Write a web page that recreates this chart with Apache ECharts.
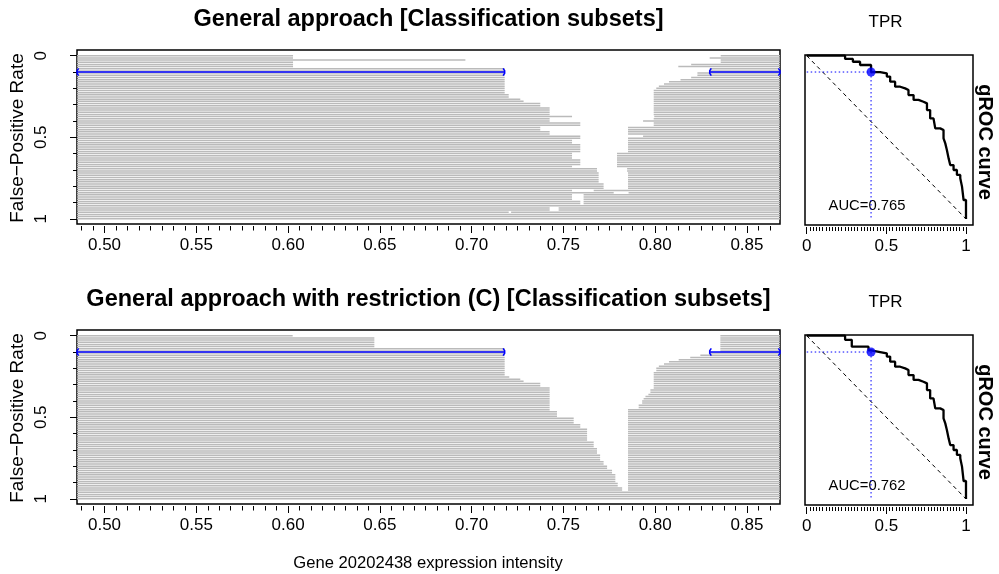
<!DOCTYPE html>
<html>
<head>
<meta charset="utf-8">
<script src="https://cdn.jsdelivr.net/npm/echarts@6/dist/echarts.min.js"></script>
<style>
  html, body { margin: 0; padding: 0; background: #fff; }
  #chart { width: 999px; height: 574px; }
</style>
</head>
<body>
<div id="chart"></div>
<script>
// ---- data -------------------------------------------------------------
// Number of negatives: FPR levels are k / N_NEG, k = 0..N_NEG
const N_NEG = 75;

// Expression axis range and tick labels
const X_MIN = 0.485, X_MAX = 0.868;
const xTickLabels = [0.50, 0.55, 0.60, 0.65, 0.70, 0.75, 0.80, 0.85];
const yTickLabels = [0, 0.5, 1];
const rocTickLabels = [0, 0.5, 1];

// Classification subsets: x <= lowerEnd[k]  or  x >= upperStart[k]
// (null = the whole range is classified as positive)
const lowerEndGeneral = [
  0.6027, 0.6027, 0.6966, 0.6027, 0.6027, 0.6027,
  0.718, 0.718, 0.718, 0.718, 0.718, 0.718, 0.718, 0.718, 0.718, 0.718, 0.718, 0.718,
  0.7202, 0.7202, 0.7265, 0.7283, 0.7374, 0.7374,
  0.7425, 0.7425, 0.7425, 0.7425, 0.7547, 0.7425, 0.7425,
  0.7592, 0.7592, 0.7374, 0.7374, 0.7425, 0.7425,
  0.7592, 0.7592, 0.7547, 0.7547,
  0.7592, 0.7592, 0.7592, 0.7592,
  0.7547, 0.7547, 0.7547,
  0.7592, 0.7592, 0.7592,
  0.7547, 0.7683, 0.7683,
  0.7692, 0.7692, 0.7692, 0.7692, 0.7692,
  0.7719, 0.7719, 0.7719,
  0.7547, 0.7774,
  0.7547, 0.7547, 0.7547,
  0.7592, 0.7592,
  null, 0.7425, 0.7425, 0.7202,
  null, null, null
];
const upperStartGeneral = [
  0.8357, 0.8297, 0.8357, 0.8357, 0.8196, 0.8126, 0.8297, 0.8297,
  0.823, 0.823, 0.8196, 0.8138, 0.8075, 0.8048, 0.802, 0.8006,
  0.7992, 0.7992, 0.7992, 0.7992, 0.7992, 0.7992, 0.7992, 0.7992, 0.7992, 0.7992, 0.7992, 0.7992,
  0.7995, 0.7992, 0.7934, 0.7992, 0.7992,
  0.7852, 0.7852, 0.7852, 0.7852,
  0.7934,
  0.7852, 0.7852, 0.7852, 0.7852, 0.7852, 0.7852, 0.7852,
  0.7792, 0.7792, 0.7792, 0.7792, 0.7792, 0.7792, 0.7792,
  0.7847, 0.7847, 0.7852, 0.7852, 0.7852, 0.7852, 0.7852, 0.7852, 0.7852, 0.7852,
  0.7665, 0.7855,
  0.761, 0.761, 0.761, 0.761, 0.761,
  null, 0.7474, 0.7474, 0.7215,
  null, null, null
];

const lowerEndRestricted = [
  0.6025, 0.647, 0.647, 0.647, 0.647, 0.647,
  0.718, 0.718, 0.718, 0.718, 0.718, 0.718, 0.718, 0.718, 0.718, 0.718, 0.718, 0.718, 0.718,
  0.7205, 0.7265, 0.7283,
  0.7374, 0.7374,
  0.7425, 0.7425, 0.7425, 0.7425, 0.7425, 0.7425, 0.7425, 0.7425, 0.7425, 0.7425, 0.7425,
  0.7465, 0.7465, 0.7465,
  0.7556, 0.7556, 0.7556,
  0.7592, 0.7592,
  0.7629, 0.7629, 0.7629, 0.7629, 0.7629, 0.7629,
  0.7665, 0.7665, 0.7665,
  0.7683, 0.7683, 0.7683,
  0.770, 0.770, 0.770,
  0.7719, 0.7719,
  0.7738, 0.7738,
  0.7765, 0.7765,
  0.7783, 0.7783, 0.7783, 0.7783,
  0.7796, 0.7796,
  0.782, 0.782,
  null, null, null, null
];
const upperStartRestricted = [
  0.8355, 0.8355, 0.8355, 0.8355, 0.8355, 0.8355, 0.8355, 0.8355,
  0.830, 0.8246, 0.8191, 0.8128, 0.8075, 0.8048, 0.802,
  0.8006, 0.8006,
  0.7992, 0.7992, 0.7992, 0.7992, 0.7992, 0.7992, 0.7992, 0.7992,
  0.7974, 0.7974,
  0.7963, 0.7947, 0.7937,
  0.7929, 0.7929,
  0.791, 0.791,
  0.7852, 0.7852, 0.7852, 0.7852, 0.7852, 0.7852, 0.7852, 0.7852, 0.7852, 0.7852,
  0.7852, 0.7852, 0.7852, 0.7852, 0.7852, 0.7852, 0.7852, 0.7852, 0.7852, 0.7852,
  0.7852, 0.7852, 0.7852, 0.7852, 0.7852, 0.7852, 0.7852, 0.7852, 0.7852, 0.7852,
  0.7852, 0.7852, 0.7852, 0.7852, 0.7852, 0.7852, 0.7852, 0.7852,
  null, null, null, null
];

// Chosen FPR and its classification subset
const targetFPR = 0.1;
const targetTPRGeneral = 0.404;
const targetTPRRestricted = 0.404;
const targetSubsetGeneral = [0.718, 0.8297];
const targetSubsetRestricted = [0.718, 0.8297];

// gROC curves (vertices of the step function): TPR and FPR
const rocTprGeneral = [0, 0.241, 0.29, 0.335, 0.404, 0.461, 0.503, 0.524, 0.555, 0.587, 0.618, 0.639, 0.671,
  0.702, 0.733, 0.755, 0.775, 0.796, 0.807, 0.838, 0.859, 0.87, 0.88, 0.891, 0.901, 0.922, 0.943, 0.964,
  0.975, 0.985, 1.0, 1.0];
const rocFprGeneral = [0, 0.02, 0.037, 0.057, 0.1, 0.108, 0.128, 0.159, 0.19, 0.20, 0.21, 0.241, 0.271,
  0.282, 0.292, 0.333, 0.384, 0.394, 0.445, 0.455, 0.506, 0.537, 0.578, 0.629, 0.67, 0.70, 0.73, 0.751,
  0.802, 0.884, 0.888, 1.0];
const rocTprRestricted = [0, 0.241, 0.283, 0.388, 0.404, 0.461, 0.503, 0.524, 0.555, 0.587, 0.618, 0.639, 0.671,
  0.702, 0.733, 0.755, 0.775, 0.796, 0.807, 0.838, 0.859, 0.87, 0.88, 0.891, 0.901, 0.922, 0.943, 0.964,
  0.975, 0.985, 1.0, 1.0];
const rocFprRestricted = [0, 0.025, 0.067, 0.09, 0.1, 0.108, 0.128, 0.159, 0.19, 0.20, 0.21, 0.241, 0.271,
  0.282, 0.292, 0.333, 0.384, 0.394, 0.445, 0.455, 0.506, 0.537, 0.578, 0.629, 0.67, 0.70, 0.73, 0.751,
  0.802, 0.89, 0.894, 1.0];

const aucGeneral = '0.765';
const aucRestricted = '0.762';

const titleGeneral = 'General approach [Classification subsets]';
const titleRestricted = 'General approach with restriction (C) [Classification subsets]';
const xLabel = 'Gene 20202438 expression intensity';
const yLabel = 'False\u2212Positive Rate';

// ---- helpers ----------------------------------------------------------
const FONT = '"Liberation Sans", Arial, Helvetica, sans-serif';

function rowData(lowerEnd, upperStart) {
  return lowerEnd.map((a, k) => {
    const fpr = k / N_NEG;
    if (a === null || upperStart[k] === null) return [fpr, X_MAX, X_MAX];
    return [fpr, a, upperStart[k]];
  });
}

function renderRow(params, api) {
  const cs = params.coordSys;
  const fpr = api.value(0);
  const y = api.coord([X_MIN, fpr])[1];
  const xa = api.coord([api.value(1), fpr])[0];
  const xb = api.coord([api.value(2), fpr])[0];
  const style = { stroke: '#bababa', lineWidth: 1.5 };
  const children = [
    { type: 'line', shape: { x1: cs.x, y1: y, x2: xa, y2: y }, style: style }
  ];
  if (xb < cs.x + cs.width) {
    children.push({ type: 'line', shape: { x1: xb, y1: y, x2: cs.x + cs.width, y2: y }, style: style });
  }
  return { type: 'group', children: children };
}

function renderInterval(params, api) {
  const fpr = api.value(0);
  const p1 = api.coord([api.value(1), fpr]);
  const p2 = api.coord([api.value(2), fpr]);
  const y = p1[1];
  const st = { stroke: '#0000ff', lineWidth: 1.5, fill: null };
  return {
    type: 'group',
    children: [
      { type: 'line', shape: { x1: p1[0], y1: y, x2: p2[0], y2: y }, style: st },
      { type: 'polyline', shape: { points: [[p1[0] + 1.6, y - 3.6], [p1[0], y - 1.2], [p1[0], y + 1.2], [p1[0] + 1.6, y + 3.6]] }, style: st },
      { type: 'polyline', shape: { points: [[p2[0] - 1.6, y - 3.6], [p2[0], y - 1.2], [p2[0], y + 1.2], [p2[0] - 1.6, y + 3.6]] }, style: st }
    ]
  };
}

function minorValues(start, end, step) {
  const out = [];
  for (let v = start; v <= end + 1e-9; v += step) out.push(+v.toFixed(5));
  return out;
}

const xMinor = minorValues(0.4875, X_MAX, 0.00625);
const yMinor = minorValues(0, 1, 0.1);
const rocMinor = minorValues(0, 1, 0.02);

function fmt2(v) { return v.toFixed(2); }
function fmtY(v) { return String(+v.toFixed(1)); }

const noLine = { show: false, onZero: false };

function mainXAxes(gridIndex) {
  return [
    {
      gridIndex, type: 'value', min: X_MIN, max: X_MAX, position: 'bottom', offset: 2,
      axisLine: noLine, splitLine: { show: false },
      axisTick: { show: true, customValues: xTickLabels, length: 7, lineStyle: { color: '#000', width: 1 } },
      axisLabel: { show: true, customValues: xTickLabels, formatter: fmt2, margin: 11, color: '#000', fontSize: 17, fontFamily: FONT }
    },
    {
      gridIndex, type: 'value', min: X_MIN, max: X_MAX, position: 'bottom', offset: 2,
      axisLine: noLine, splitLine: { show: false },
      axisTick: { show: true, customValues: xMinor, length: 4.5, lineStyle: { color: '#000', width: 1 } },
      axisLabel: { show: false }
    }
  ];
}
function mainYAxes(gridIndex) {
  return [
    {
      gridIndex, type: 'value', inverse: true, min: -0.035, max: 1.032, position: 'left',
      axisLine: noLine, splitLine: { show: false },
      axisTick: { show: true, customValues: yTickLabels, length: 7, lineStyle: { color: '#000', width: 1 } },
      axisLabel: { show: true, customValues: yTickLabels, formatter: fmtY, rotate: 90, margin: 27, color: '#000', fontSize: 17, fontFamily: FONT }
    },
    {
      gridIndex, type: 'value', inverse: true, min: -0.035, max: 1.032, position: 'left',
      axisLine: noLine, splitLine: { show: false },
      axisTick: { show: true, customValues: yMinor, length: 4, lineStyle: { color: '#000', width: 1 } },
      axisLabel: { show: false }
    }
  ];
}
function rocXAxes(gridIndex) {
  return [
    {
      gridIndex, type: 'value', min: -0.0107, max: 1.044, position: 'bottom', offset: 2,
      axisLine: noLine, splitLine: { show: false },
      axisTick: { show: true, customValues: rocTickLabels, length: 7, lineStyle: { color: '#000', width: 1 } },
      axisLabel: { show: true, customValues: rocTickLabels, formatter: fmtY, margin: 11, color: '#000', fontSize: 17, fontFamily: FONT }
    },
    {
      gridIndex, type: 'value', min: -0.0107, max: 1.044, position: 'bottom', offset: 2,
      axisLine: noLine, splitLine: { show: false },
      axisTick: { show: true, customValues: rocMinor, length: 4, lineStyle: { color: '#000', width: 1 } },
      axisLabel: { show: false }
    }
  ];
}
function rocYAxis(gridIndex) {
  return {
    gridIndex, type: 'value', inverse: true, min: -0.0043, max: 1.037, show: false,
    axisLine: noLine
  };
}

function panelSeries(xi, yi, lowerEnd, upperStart, subset) {
  return [
    {
      type: 'custom', xAxisIndex: xi, yAxisIndex: yi, silent: true, clip: true,
      encode: { x: [1, 2], y: 0 },
      data: rowData(lowerEnd, upperStart), renderItem: renderRow
    },
    {
      type: 'custom', xAxisIndex: xi, yAxisIndex: yi, silent: true, clip: false,
      encode: { x: [1, 2], y: 0 },
      data: [[targetFPR, X_MIN, subset[0]], [targetFPR, subset[1], X_MAX]],
      renderItem: renderInterval, z: 5
    }
  ];
}

function rocSeries(xi, yi, tpr, fpr, tprAt) {
  return [
    {
      type: 'line', xAxisIndex: xi, yAxisIndex: yi, silent: true, showSymbol: false,
      data: [[0, 0], [1, 1]],
      lineStyle: { color: '#000', width: 1, type: [4, 3.5] }, z: 2
    },
    {
      type: 'line', xAxisIndex: xi, yAxisIndex: yi, silent: true, showSymbol: false,
      data: [[0, targetFPR], [tprAt, targetFPR]],
      lineStyle: { color: '#0000ff', width: 1, type: [1.5, 2.5] }, z: 2
    },
    {
      type: 'line', xAxisIndex: xi, yAxisIndex: yi, silent: true, showSymbol: false,
      data: [[tprAt, targetFPR], [tprAt, 1]],
      lineStyle: { color: '#0000ff', width: 1, type: [1.5, 2.5] }, z: 2
    },
    {
      type: 'line', xAxisIndex: xi, yAxisIndex: yi, silent: true, showSymbol: false, step: 'end',
      data: tpr.map((t, i) => [t, fpr[i]]),
      lineStyle: { color: '#000', width: 2.3 }, z: 3
    },
    {
      type: 'scatter', xAxisIndex: xi, yAxisIndex: yi, silent: true,
      data: [[tprAt, targetFPR]], symbolSize: 9, itemStyle: { color: '#0000ff' }, z: 4
    }
  ];
}

function text(x, y, str, size, opts) {
  return Object.assign({
    type: 'text', x, y, silent: true,
    style: Object.assign({
      text: str, fill: '#000', fontSize: size, fontFamily: FONT,
      align: 'center', verticalAlign: 'middle'
    }, (opts && opts.style) || {})
  }, (opts && opts.el) || {});
}

const gridBox = { show: true, borderColor: '#000', borderWidth: 1.5, backgroundColor: 'transparent' };

const option = {
  animation: false,
  backgroundColor: '#fff',
  grid: [
    Object.assign({ left: 77, top: 50, width: 703, height: 174 }, gridBox),
    Object.assign({ left: 805, top: 55, width: 168, height: 170 }, gridBox),
    Object.assign({ left: 77, top: 330, width: 703, height: 174 }, gridBox),
    Object.assign({ left: 805, top: 335, width: 168, height: 170 }, gridBox)
  ],
  xAxis: [].concat(mainXAxes(0), rocXAxes(1), mainXAxes(2), rocXAxes(3)),
  yAxis: [].concat(mainYAxes(0), [rocYAxis(1)], mainYAxes(2), [rocYAxis(3)]),
  series: [].concat(
    panelSeries(0, 0, lowerEndGeneral, upperStartGeneral, targetSubsetGeneral),
    rocSeries(2, 2, rocTprGeneral, rocFprGeneral, targetTPRGeneral),
    panelSeries(4, 3, lowerEndRestricted, upperStartRestricted, targetSubsetRestricted),
    rocSeries(6, 5, rocTprRestricted, rocFprRestricted, targetTPRRestricted)
  ),
  graphic: [
    text(428.5, 20, titleGeneral, 23.5, { style: { fontWeight: 'bold' } }),
    text(428.5, 300, titleRestricted, 23.5, { style: { fontWeight: 'bold' } }),
    text(885.5, 22, 'TPR', 17),
    text(885.5, 302, 'TPR', 17),
    text(985, 142, 'gROC curve', 20, { style: { fontWeight: 'bold' }, el: { rotation: -Math.PI / 2 } }),
    text(985, 422, 'gROC curve', 20, { style: { fontWeight: 'bold' }, el: { rotation: -Math.PI / 2 } }),
    text(18, 138, yLabel, 19, { el: { rotation: Math.PI / 2 } }),
    text(18, 418, yLabel, 19, { el: { rotation: Math.PI / 2 } }),
    text(867, 206, 'AUC=' + aucGeneral, 14.8),
    text(867, 486, 'AUC=' + aucRestricted, 14.8),
    text(428, 563, xLabel, 16.6)
  ]
};

const chart = echarts.init(document.getElementById('chart'), null, { renderer: 'canvas' });
chart.setOption(option);
</script>
</body>
</html>
